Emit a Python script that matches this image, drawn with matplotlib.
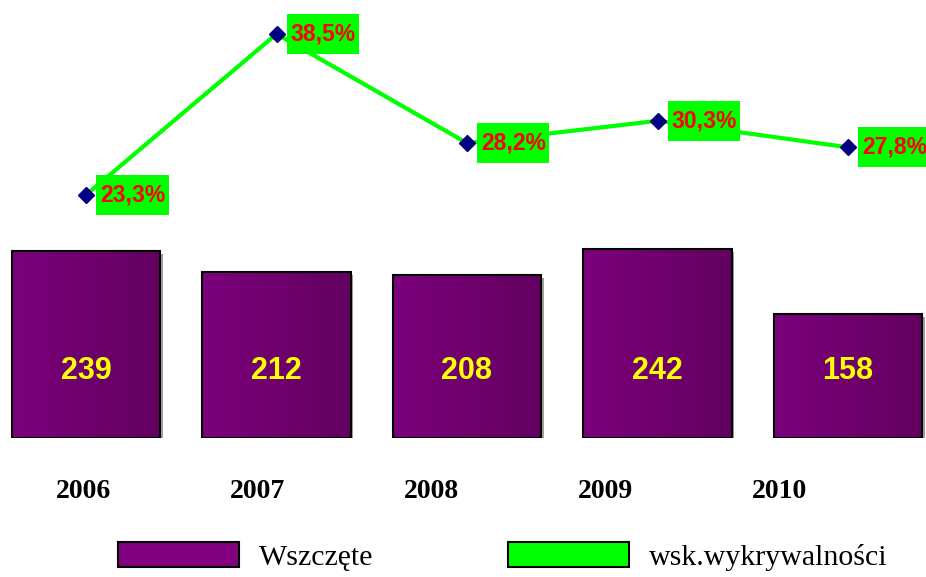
import numpy as np
import matplotlib.pyplot as plt
import matplotlib.patheffects as pe
from matplotlib.colors import LinearSegmentedColormap
from matplotlib.patches import Patch

# dane
years = ['2006', '2007', '2008', '2009', '2010']
wszczete = [239, 212, 208, 242, 158]
wsk = [23.3, 38.5, 28.2, 30.3, 27.8]

W, H = 926, 577
fig = plt.figure(figsize=(W / 100, H / 100), dpi=100)

# os glowna - slupki
bottom_px = 438
ax = fig.add_axes([0, (H - bottom_px) / H, 1, bottom_px / H])
ax.set_xlim(-86 / 190.5, 4 + 78 / 190.5)
ax.set_ylim(0, bottom_px / 0.782)
ax.axis('off')

grad = LinearSegmentedColormap.from_list('g', ['#7c007c', '#62005f'])
x = np.arange(len(years))
bw = 0.777
bars = ax.bar(x, wszczete, width=bw, color='#700070', edgecolor='none', zorder=2,
              path_effects=[pe.SimplePatchShadow(offset=(2, -2), shadow_rgbFace='#888888', alpha=0.8),
                            pe.Normal()])
img = np.linspace(0, 1, 100).reshape(1, -1)
for b in bars:
    x0, w_, h_ = b.get_x(), b.get_width(), b.get_height()
    im = ax.imshow(img, cmap=grad, extent=[x0, x0 + w_, 0, h_], aspect='auto', zorder=2.5)
    im.set_clip_path(b)
ax.bar(x, wszczete, width=bw, fill=False, edgecolor='black', linewidth=1.5, zorder=3)
for xi, v in zip(x, wszczete):
    ax.text(xi, 86, str(v), ha='center', va='center', color='#ffff00',
            fontsize=22, fontweight='bold', family='Liberation Sans', zorder=4)

# os druga - linia
ax2 = ax.twinx()
ax2.set_ylim(0.35, 41.71)
ax2.axis('off')
ax2.plot(x, wsk, color='#00ff00', linewidth=3, zorder=2)
ax2.plot(x, wsk, linestyle='none', marker='D', markersize=8, color='#000080', zorder=5)
for xi, v in zip(x, wsk):
    ax2.annotate(f'{v:.1f}%'.replace('.', ','), (xi, v), xytext=(10, 0),
                 textcoords='offset points', ha='left', va='center',
                 color='#ff0000', fontsize=16.5, fontweight='bold', family='Liberation Sans',
                 bbox=dict(boxstyle='square,pad=0.15', mutation_aspect=2.5, fc='#00ff00', ec='none'),
                 zorder=4, annotation_clip=False)

# etykiety lat
axy = fig.add_axes([-4 / W, (H - 479) / H, 871 / W, 0.001])
axy.set_xlim(-0.5, 4.5)
axy.set_xticks(range(len(years)))
axy.set_xticklabels(years, fontsize=20, fontweight='bold', family='Liberation Serif')
axy.tick_params(length=0, pad=0)
axy.set_yticks([])
for s in axy.spines.values():
    s.set_visible(False)
axy.patch.set_visible(False)

# legenda
handles = [Patch(facecolor='#800080', edgecolor='black', linewidth=1.5, label='Wszczęte'),
           Patch(facecolor='#00ff00', edgecolor='black', linewidth=1.5, label='wsk.wykrywalności')]
fig.legend(handles=handles, loc='upper left', bbox_to_anchor=(118 / W, 1 - 542 / H),
           ncol=2, frameon=False, borderpad=0, borderaxespad=0,
           handlelength=4.05, handleheight=0.92, handletextpad=0.68, columnspacing=4.5,
           prop={'family': 'Liberation Serif', 'size': 21.5})

fig.savefig('out.png', dpi=100)
